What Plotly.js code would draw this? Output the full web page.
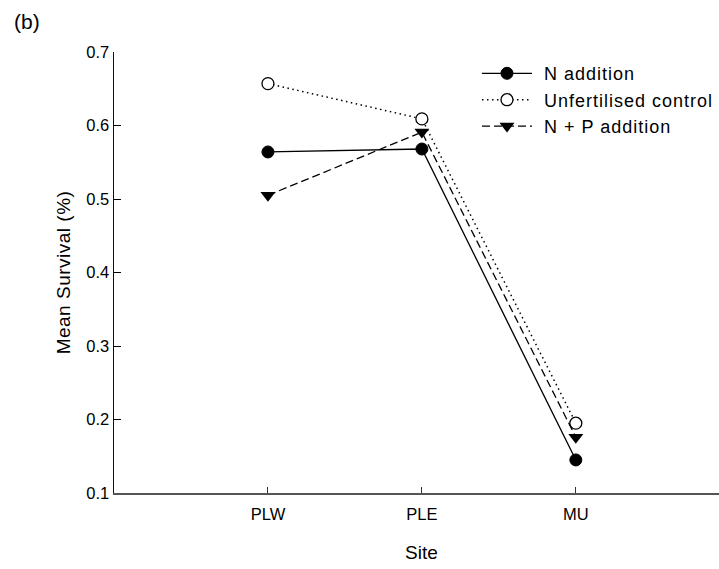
<!DOCTYPE html>
<html>
<head>
<meta charset="utf-8">
<script src="https://cdn.plot.ly/plotly-3.0.1.min.js"></script>
<style>
html, body { margin: 0; padding: 0; background: #fff; overflow: hidden; }
#chart { width: 719px; height: 569px; }
#chart .legendtext { letter-spacing: 1px; }
#chart .ytitle { letter-spacing: 0.5px; }
</style>
</head>
<body>
<div id="chart"></div>
<script>
// Data
var sites = ['PLW', 'PLE', 'MU'];
var siteIndex = [1, 2, 3];
var nAddition = [0.564, 0.568, 0.145];
var unfertilisedControl = [0.657, 0.609, 0.195];
var npAddition = [0.505, 0.591, 0.176];
var seriesNames = ['N addition', 'Unfertilised control', 'N + P addition'];
var yTicks = [0.1, 0.2, 0.3, 0.4, 0.5, 0.6, 0.7];

var FONT = 'Liberation Sans, Arial, Helvetica, sans-serif';

var traces = [
  {
    x: siteIndex, y: nAddition, name: seriesNames[0],
    type: 'scatter', mode: 'lines+markers',
    line: { color: '#000', width: 1.3, dash: 'solid' },
    marker: { symbol: 'circle', size: 12, color: '#000', line: { color: '#000', width: 1 } }
  },
  {
    x: siteIndex, y: unfertilisedControl, name: seriesNames[1],
    type: 'scatter', mode: 'lines+markers',
    line: { color: '#000', width: 1.5, dash: '1.5px,3.5px' },
    marker: { symbol: 'circle', size: 12, color: '#fff', line: { color: '#000', width: 1.3 } }
  },
  {
    x: siteIndex, y: npAddition, name: seriesNames[2],
    type: 'scatter', mode: 'lines+markers',
    line: { color: '#000', width: 1.3, dash: '8px,4px' },
    marker: { symbol: 'triangle-down', size: 13, color: '#000', line: { color: '#000', width: 0 } }
  }
];

var layout = {
  width: 719, height: 569,
  paper_bgcolor: '#fff', plot_bgcolor: '#fff',
  margin: { l: 114, r: 0, t: 52, b: 76, pad: 0 },
  font: { family: FONT, color: '#000', size: 16 },
  showlegend: true,
  legend: {
    x: 0.6165, xanchor: 'left', xref: 'paper',
    y: 0.993, yanchor: 'top', yref: 'paper',
    bgcolor: 'rgba(0,0,0,0)', borderwidth: 0,
    font: { family: FONT, size: 18, color: '#000' },
    tracegroupgap: 0
  },
  xaxis: {
    range: [0, 3.93],
    tickmode: 'array', tickvals: siteIndex, ticktext: sites,
    ticks: 'inside', ticklen: 6, tickwidth: 1, tickcolor: '#333',
    ticklabelstandoff: 5,
    showline: true, linecolor: '#555', linewidth: 2,
    showgrid: false, zeroline: false,
    tickfont: { family: FONT, size: 16.5, color: '#000' },
    automargin: false
  },
  yaxis: {
    range: [0.1, 0.7],
    tickmode: 'array', tickvals: yTicks, ticktext: yTicks.map(function (v) { return v.toFixed(1); }),
    ticks: 'inside', ticklen: 7, tickwidth: 1, tickcolor: '#000',
    showline: true, linecolor: '#111', linewidth: 1.5,
    showgrid: false, zeroline: false,
    tickfont: { family: FONT, size: 16.5, color: '#000' },
    title: { text: 'Mean Survival (%)', font: { family: FONT, size: 19, color: '#000' }, standoff: 10 },
    automargin: false
  },
  annotations: [
    {
      text: 'Site', xref: 'x', x: 2, yref: 'paper', y: 0, yshift: -59,
      xanchor: 'center', yanchor: 'middle', showarrow: false,
      font: { family: FONT, size: 19, color: '#000' }
    },
    {
      text: '(b)', xref: 'paper', x: 0, xshift: -114 + 12, yref: 'paper', y: 1, yshift: 52 - 21,
      xanchor: 'left', yanchor: 'middle', showarrow: false,
      font: { family: FONT, size: 21, color: '#000' }
    }
  ]
};

Plotly.newPlot('chart', traces, layout, { displayModeBar: false, staticPlot: true }).then(function (gd) {
  // Legend key styling (decoration only): longer sample lines as in the reference, no clipping
  gd.querySelectorAll('.legend [clip-path]').forEach(function (el) { el.removeAttribute('clip-path'); });
  gd.querySelectorAll('.legend .legendlines path').forEach(function (p) { p.setAttribute('d', 'M-5,0h50'); });
  gd.querySelectorAll('.legend .legendtext').forEach(function (t) {
    t.setAttribute('x', '57');
    t.querySelectorAll('tspan.line').forEach(function (s) { s.setAttribute('x', '57'); });
  });
});
</script>
</body>
</html>
